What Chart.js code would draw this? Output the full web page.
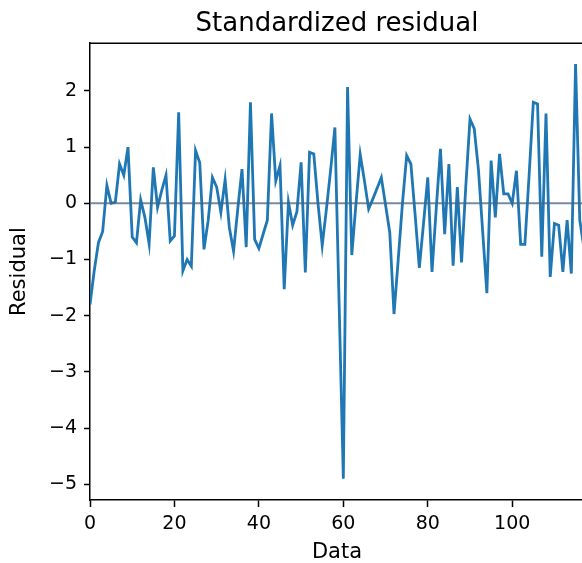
<!DOCTYPE html>
<html>
<head>
<meta charset="utf-8">
<script src="https://cdn.jsdelivr.net/npm/chart.js@4/dist/chart.umd.min.js"></script>
<style>
  html, body { margin: 0; padding: 0; background: #fff; overflow: hidden; }
  #wrap { width: 674px; height: 563px; }
</style>
</head>
<body>
<div id="wrap"><canvas id="residChart"></canvas></div>
<script>
const residuals = [
  -1.8, -1.2, -0.7, -0.5, 0.32, 0.0, 0.02, 0.7, 0.5, 1.0,
  -0.6, -0.7, 0.06, -0.25, -0.72, 0.64, -0.07, 0.23, 0.5, -0.67,
  -0.58, 1.62, -1.2, -1.0, -1.12, 0.94, 0.72, -0.82, -0.3, 0.46,
  0.29, -0.16, 0.42, -0.43, -0.85, -0.1, 0.61, -0.78, 1.8, -0.64,
  -0.8, -0.55, -0.3, 1.6, 0.4, 0.67, -1.53, 0.02, -0.39, -0.15,
  0.73, -1.23, 0.91, 0.88, 0.0, -0.75, -0.1, 0.6, 1.35, -1.78,
  -4.9, 2.07, -0.92, 0.0, 0.87, 0.4, -0.1, 0.08, 0.27, 0.46,
  -0.03, -0.52, -1.97, -1.0, 0.0, 0.85, 0.7, -0.2, -1.15, -0.35,
  0.46, -1.22, -0.1, 0.97, -0.55, 0.7, -1.11, 0.29, -1.05, 0.3,
  1.5, 1.33, 0.6, -0.5, -1.6, 0.76, -0.25, 0.88, 0.17, 0.17,
  0.0, 0.58, -0.73, -0.73, 0.5, 1.8, 1.77, -0.95, 1.6, -1.31,
  -0.36, -0.39, -1.22, -0.3, -1.25, 2.48, -0.3, -0.8
];
const refLevel = 0;
const xRange = [0, 117];
const yRange = [-5.28, 2.85];
const xStep = 20;
const yStep = 1;

const FONT = "'DejaVu Sans', 'Liberation Sans', sans-serif";
const minus = v => String(v).replace('-', '\u2212');

// zero line + top/right spines
const extras = {
    id: 'extras',
    afterDatasetsDraw(chart) {
        const {ctx, chartArea: a, scales: {y}} = chart;
        const yp = y.getPixelForValue(refLevel);
        ctx.save();
        ctx.strokeStyle = 'rgba(70,100,130,0.75)';
        ctx.lineWidth = 2;
        ctx.beginPath(); ctx.moveTo(a.left, yp); ctx.lineTo(a.right, yp); ctx.stroke();
        ctx.strokeStyle = '#000';
        ctx.lineWidth = 1.5;
        ctx.beginPath(); ctx.moveTo(a.left, a.top); ctx.lineTo(a.right, a.top); ctx.lineTo(a.right, a.bottom); ctx.stroke();
        ctx.restore();
    }
};

new Chart(document.getElementById('residChart').getContext('2d'), {
    type: 'line',
    data: {
        datasets: [{
            data: residuals.map((v, i) => ({ x: i, y: v })),
            borderColor: '#1f77b4',
            borderWidth: 2.8,
            pointRadius: 0,
            tension: 0,
            fill: false
        }]
    },
    options: {
        responsive: true,
        maintainAspectRatio: false,
        animation: false,
        layout: { padding: { left: 0, right: 90, top: 0, bottom: 0 } },
        plugins: {
            legend: { display: false },
            tooltip: { enabled: false },
            title: {
                display: true,
                fullSize: false, // center over the plot area, like matplotlib
                text: 'Standardized residual',
                color: '#000',
                font: { family: FONT, size: 26, weight: 'normal', lineHeight: 1.2 },
                padding: { top: 9, bottom: 3 }
            }
        },
        scales: {
            x: {
                type: 'linear',
                min: xRange[0], max: xRange[1],
                afterFit: s => { s.height = 63; },
                ticks: { stepSize: xStep, includeBounds: false, autoSkip: false, maxRotation: 0, padding: 6, color: '#000', font: { family: FONT, size: 19 } },
                grid: { drawOnChartArea: false, drawTicks: true, tickLength: 7, tickColor: '#000', tickWidth: 1.5 },
                border: { color: '#000', width: 1.5 },
                title: { display: true, text: 'Data', color: '#000', font: { family: FONT, size: 21, lineHeight: 1 }, padding: { top: 0, bottom: 0 } }
            },
            y: {
                min: yRange[0], max: yRange[1],
                afterFit: s => { s.width = 90; },
                ticks: { stepSize: yStep, includeBounds: false, autoSkip: false, padding: 7, color: '#000', font: { family: FONT, size: 19 }, callback: v => minus(v) },
                grid: { drawOnChartArea: false, drawTicks: true, tickLength: 6, tickColor: '#000', tickWidth: 1.5 },
                border: { color: '#000', width: 1.5 },
                title: { display: true, text: 'Residual', color: '#000', font: { family: FONT, size: 21, lineHeight: 1 }, padding: { top: 9.5, bottom: 0 } }
            }
        }
    },
    plugins: [extras]
});
</script>
</body>
</html>
